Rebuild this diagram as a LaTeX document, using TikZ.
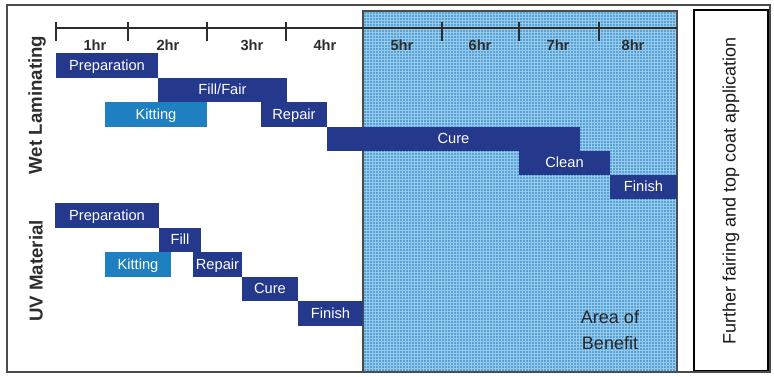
\documentclass[tikz,border=0pt]{standalone}
\usepackage{fontspec}
\setmainfont{Liberation Sans}

\definecolor{navybar}{RGB}{36,56,140}
\definecolor{kitbar}{RGB}{30,128,192}
\definecolor{benefit}{RGB}{88,162,214}
\definecolor{benefitgrid}{RGB}{150,202,236}
\definecolor{axisgray}{RGB}{45,45,45}

\tikzset{
  task/.style={inner sep=0pt, fill=navybar, text=white, text height=1.55ex, text depth=0.2ex,
    font=\fontsize{11}{13}\selectfont},
  kit/.style={task, fill=kitbar},
  hour/.style={font=\bfseries\fontsize{11}{13}\selectfont, text=axisgray},
  rowlabel/.style={rotate=90, font=\bfseries\fontsize{14}{16}\selectfont, text=axisgray},
}

% bar from (x1,y1) to (x2,y2): style, name, x1, y1, x2, y2, text
\newcommand\taskbar[7]{%
  \node[#1, minimum width={(#5-#3)*0.75pt}, minimum height={(#6-#4)*0.75pt}]
    (#2) at ({(#3+#5)/2},{(#4+#6)/2}) {#7};}

\begin{document}
\begin{tikzpicture}[x=0.75pt, y=-0.75pt]
    \useasboundingbox (0,0) rectangle (774,376);

    % Area of benefit with its grid
    \fill[benefit] (363,11) rectangle (677,372);
    \foreach \gx in {366,369,...,675}
        \draw[benefitgrid, line width=0.35pt] (\gx,11) -- (\gx,372);
    \foreach \gy in {14,17,...,371}
        \draw[benefitgrid, line width=0.35pt] (363,\gy) -- (677,\gy);
    \draw[black!70, line width=0.8pt] (363,11) rectangle (677,372);

    % Time axis
    \draw[axisgray, line width=1pt] (56,28) -- (677,28);
    \foreach \tx in {56,128,207,286,442,519,599}
        \draw[axisgray, line width=1pt] (\tx,22) -- (\tx,41);
    \foreach \hx/\hn in {95/1,168/2,252/3,325/4,402/5,480/6,558/7,633/8}
        \node[hour] (h\hn) at (\hx,45) {\hn hr};

    % Row labels
    \node[rowlabel] (wet) at (37,105) {Wet Laminating};
    \node[rowlabel] (uv) at (36,271) {UV Material};

    % Wet laminating tasks
    \taskbar{task}{wprep}{56}{53}{158}{78}{Preparation}
    \taskbar{task}{wfill}{158}{78}{287}{102}{Fill/Fair}
    \taskbar{kit}{wkit}{105}{102}{207}{127}{Kitting}
    \taskbar{task}{wrepair}{261}{102}{327}{127}{Repair}
    \taskbar{task}{wcure}{327}{127}{580}{151}{Cure}
    \taskbar{task}{wclean}{519}{151}{610}{175}{Clean}
    \taskbar{task}{wfinish}{610}{175}{677}{199}{Finish}

    % UV material tasks
    \taskbar{task}{uprep}{55}{203}{159}{228}{Preparation}
    \taskbar{task}{ufill}{159}{228}{201}{252}{Fill}
    \taskbar{kit}{ukit}{105}{252}{171}{277}{Kitting}
    \taskbar{task}{urepair}{193}{252}{242}{277}{Repair}
    \taskbar{task}{ucure}{242}{277}{298}{301}{Cure}
    \taskbar{task}{ufinish}{298}{301}{363}{326}{Finish}

    \node[align=center, font=\fontsize{13.5}{19.5}\selectfont, text=black!85] (area) at (610,330) {Area of\\Benefit};

    % Further work box
    \draw[black, line width=1.1pt] (694,10) rectangle (768,371);
    \node[rotate=90, font=\fontsize{13.5}{16}\selectfont, text=black!90] (further) at (731,191) {Further fairing and top coat application};

    % Frame
    \draw[black!70, line width=1.5pt] (7,5) rectangle (770,372);
\end{tikzpicture}
\end{document}
